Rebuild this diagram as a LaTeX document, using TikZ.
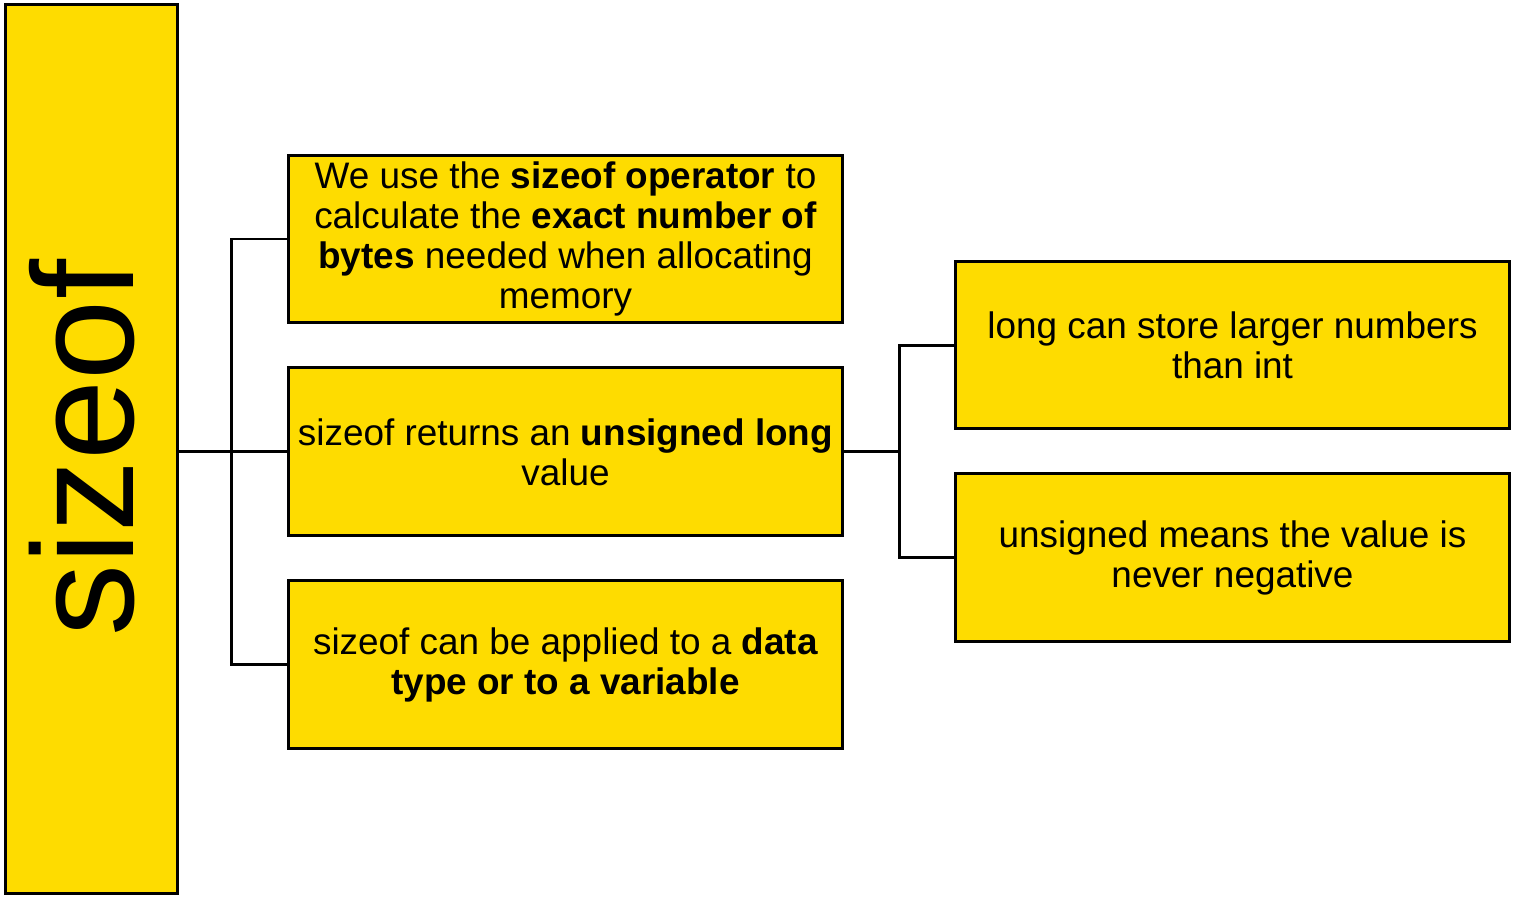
\documentclass[tikz,border=0pt]{standalone}
\usepackage{fontspec}
\setmainfont{Liberation Sans}
\usetikzlibrary{positioning}
\definecolor{noteYellow}{HTML}{FEDC00}

\begin{document}
\begin{tikzpicture}[
  x=0.02cm, y=-0.02cm,
  font=\fontsize{21}{22.8}\selectfont,
  link/.style={line width=1.7pt},
  note/.style={draw, line width=1.7pt, fill=noteYellow, align=center,
               minimum width=11.1cm, minimum height=3.36cm, inner sep=0pt},
  bar/.style={draw, line width=1.7pt, fill=noteYellow,
              minimum width=3.46cm, minimum height=17.8cm, inner sep=0pt},
]
\useasboundingbox (0,0) rectangle (1524,896);

% title bar
\node[bar] (bar) at (91.5,449) {};
\node[font=\fontsize{82}{82}\selectfont, rotate=90, inner sep=0pt] (title) at (82,448) {sizeof};

% first level
\node[note] (use) at (565.5,239)
  {We use the \textbf{sizeof operator} to\\
   calculate the \textbf{exact number of}\\
   \textbf{bytes} needed when allocating\\
   memory};
\node[note, below=0.84cm of use] (ret)
  {sizeof returns an \textbf{unsigned long}\\ value};
\node[note, below=0.84cm of ret] (app)
  {sizeof can be applied to a \textbf{data}\\ \textbf{type or to a variable}};

% second level
\node[note] (long) at (1232.5,345)
  {long can store larger numbers\\ than int};
\node[note, below=0.84cm of long] (uns)
  {unsigned means the value is\\ never negative};

% connectors
\draw[link] (bar.east |- ret.west) -- (ret.west);
\draw[link] (use.west) -- ++(-55,0) |- (app.west);
\draw[link] (ret.east) -- ++(55,0) coordinate (fork);
\draw[link] (long.west) -| (fork) |- (uns.west);

\end{tikzpicture}
\end{document}
